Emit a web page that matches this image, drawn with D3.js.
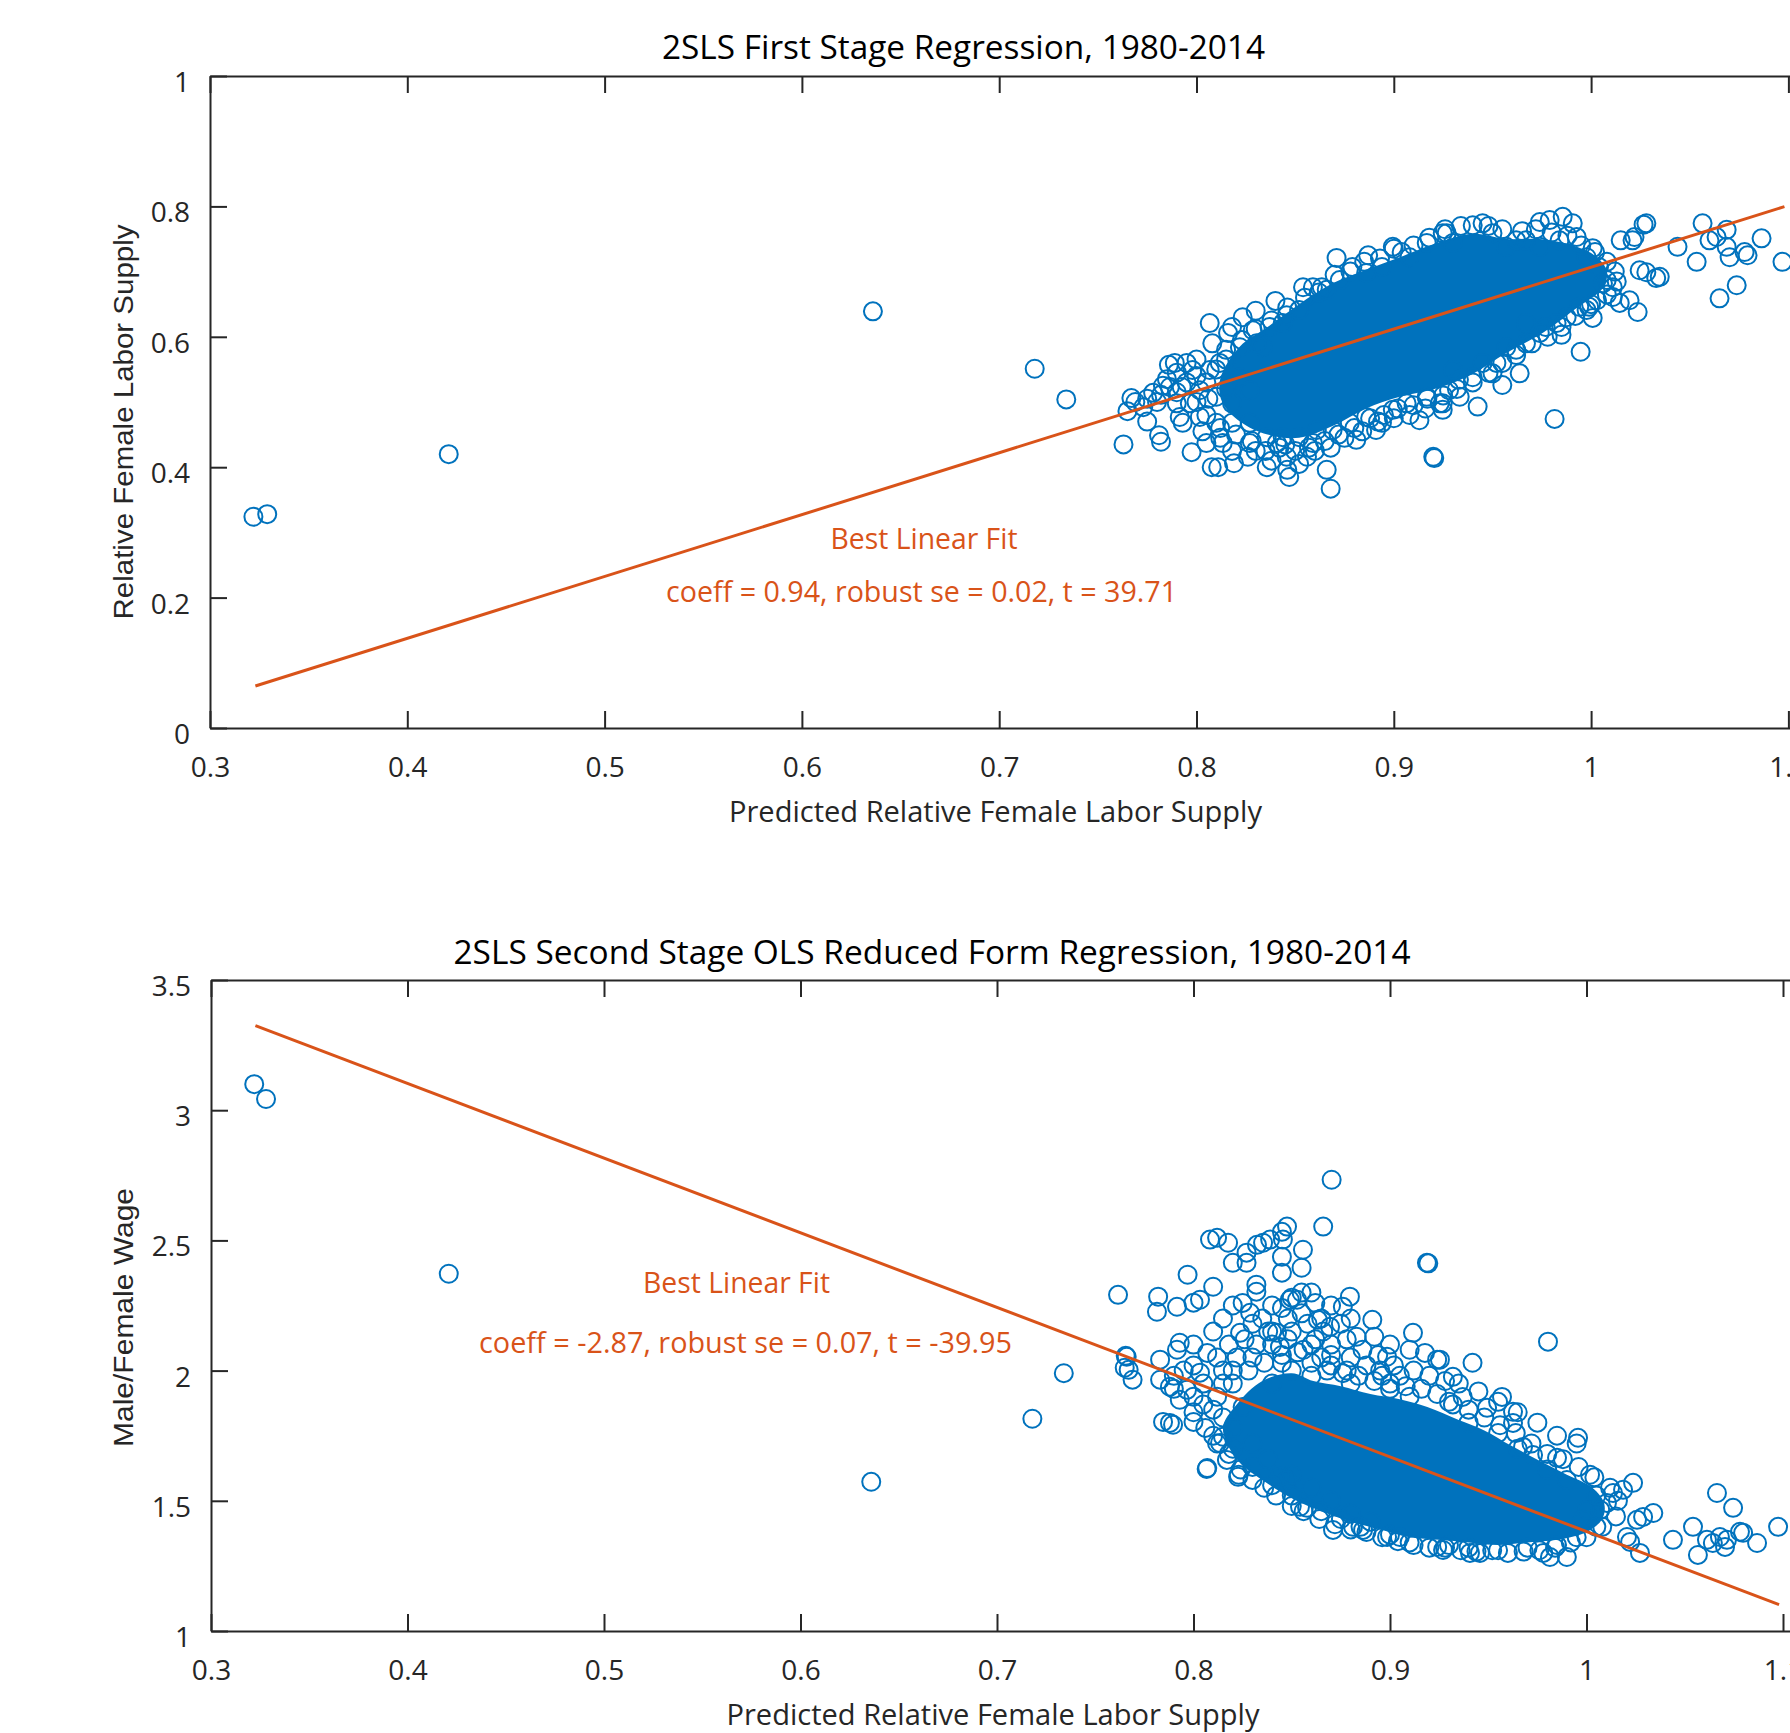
<!DOCTYPE html>
<html>
<head>
<meta charset="utf-8">
<script src="https://cdn.jsdelivr.net/npm/d3@7"></script>
<style>
  body { margin: 0; background: #fff; }
  .axis .domain, .axis line { stroke: #262626; stroke-width: 2; }
  .axis text { fill: #262626; font-family: 'Open Sans', 'Noto Sans', sans-serif; font-size: 28px; }
</style>
</head>
<body>
<svg id="chart" width="1790" height="1733"></svg>
<script>
// tick values
const xTicks = [0.3, 0.4, 0.5, 0.6, 0.7, 0.8, 0.9, 1, 1.1];
const topYTicks = [0, 0.2, 0.4, 0.6, 0.8, 1];
const bottomYTicks = [1, 1.5, 2, 2.5, 3, 3.5];

// fitted lines (slope, intercept, x range)
const topFit = { slope: 0.9487, intercept: -0.242, from: 0.323, to: 1.098 };
const bottomFit = { slope: -2.868, intercept: 4.250, from: 0.3226, to: 1.098 };

// solid blue mass where the circles overlap completely
const topCore = [
  [0.812,0.535],[0.822,0.585],[0.836,0.615],[0.852,0.650],[0.869,0.682],[0.886,0.703],
  [0.903,0.722],[0.920,0.742],[0.940,0.758],[0.957,0.750],[0.974,0.750],[0.991,0.740],
  [1.003,0.722],[1.008,0.700],[1.006,0.675],[0.993,0.645],[0.976,0.607],[0.957,0.575],
  [0.940,0.543],[0.923,0.522],[0.903,0.508],[0.886,0.490],[0.869,0.463],[0.852,0.445],
  [0.836,0.450],[0.822,0.470],[0.813,0.500]
];
const bottomCore = [
  [0.815,1.78],[0.822,1.87],[0.835,1.96],[0.850,1.99],[0.861,1.96],[0.875,1.94],
  [0.890,1.91],[0.905,1.89],[0.919,1.86],[0.935,1.81],[0.948,1.77],[0.962,1.71],
  [0.977,1.65],[0.990,1.60],[1.003,1.55],[1.009,1.49],[1.008,1.43],[1.000,1.38],
  [0.985,1.35],[0.970,1.34],[0.955,1.33],[0.940,1.34],[0.925,1.35],[0.910,1.36],
  [0.895,1.39],[0.880,1.42],[0.865,1.46],[0.850,1.51],[0.835,1.58],[0.822,1.66]
];

// individual observations [predicted supply, value]
const topPoints = [
  [0.322,0.324],[0.329,0.328],[0.421,0.420],[0.636,0.639],[0.718,0.551],[0.734,0.504],
  [0.763,0.435],[0.765,0.486],[0.767,0.506],[0.769,0.500],[0.773,0.492],[0.778,0.514],
  [0.781,0.449],[0.782,0.439],[0.782,0.511],[0.786,0.557],[0.789,0.560],[0.7865,0.523],
  [0.7925,0.523],[0.7975,0.423],[0.793,0.468],[0.7915,0.477],[0.8017,0.477],[0.805,0.437],
  [0.798,0.549],[0.8067,0.549],[0.8067,0.621],[0.816,0.606],[0.8234,0.630],[0.815,0.580],
  [0.8285,0.610],[0.837,0.615],[0.8336,0.584],[0.822,0.538],
  [0.8077,0.400],[0.811,0.400],[0.819,0.406],[0.826,0.416],[0.8356,0.400],[0.8457,0.416],
  [0.846,0.396],[0.847,0.385],[0.856,0.416],[0.866,0.396],[0.868,0.367],[0.869,0.457],
  [0.859,0.437],[0.8407,0.437],[0.881,0.442],[0.891,0.457],[0.8995,0.488],[0.913,0.472],
  [0.920,0.416],[0.9205,0.414],[0.9248,0.498],
  [0.8457,0.633],[0.854,0.676],[0.859,0.676],[0.8635,0.676],[0.871,0.721],[0.879,0.707],
  [0.887,0.725],[0.8995,0.738],[0.904,0.730],[0.9248,0.759],
  [0.795,0.560],[0.8017,0.518],[0.810,0.508],[0.7966,0.498],[0.790,0.498],[0.810,0.468],
  [0.818,0.468],[0.818,0.498],[0.827,0.518],[0.827,0.468],[0.827,0.437],[0.8133,0.437],
  [0.8356,0.446],[0.8437,0.446],[0.852,0.446],[0.861,0.457],[0.8777,0.468],[0.886,0.477],
  [0.894,0.468],[0.9065,0.498],[0.9167,0.508],[0.8118,0.560],[0.822,0.584],[0.8305,0.590],
  [0.8437,0.621],[0.852,0.641],[0.866,0.672],[0.8726,0.687],[0.886,0.698],[0.894,0.707],
  [0.908,0.722],[0.9167,0.744],
  [0.9815,0.474],[0.9947,0.577],[0.9425,0.493],[0.955,0.526],[0.9638,0.544],[0.9334,0.508],
  [0.9248,0.488],[0.985,0.603],[1.0008,0.629],[1.0236,0.638],[1.0195,0.656],[1.011,0.661],
  [1.011,0.676],[1.0246,0.702],[1.028,0.699],[1.033,0.690],[1.0348,0.692],[1.021,0.748],
  [1.022,0.753],[1.028,0.774],[1.0438,0.738],[1.0535,0.715],[1.0565,0.774],[1.060,0.748],
  [1.0636,0.753],[1.0687,0.764],[1.0687,0.738],[1.0702,0.722],[1.0651,0.659],[1.0738,0.679],
  [1.0778,0.730],[1.0793,0.725],[1.0864,0.751],[1.097,0.715],[0.9977,0.641],[0.9876,0.630],
  [1.0079,0.687],[0.979,0.779],[0.9856,0.784],[0.9907,0.774],[0.974,0.776],[0.9927,0.753],
  [1.0008,0.736],[0.940,0.771],[0.945,0.774],[0.950,0.759],[0.962,0.748],[0.967,0.748],
  [0.9268,0.759],[0.950,0.544],[0.952,0.560],[0.933,0.534],[0.928,0.518],[0.9233,0.498],
  [0.962,0.580],[0.967,0.590],[0.977,0.615],[0.9825,0.621],[1.003,0.656],[0.999,0.646],
  [1.0145,0.652],[1.015,0.748],[1.0266,0.772],
  [0.930,0.744],[0.957,0.738],[0.974,0.738],[0.984,0.748],[0.9977,0.722],[1.004,0.707],
  [1.006,0.682],[0.994,0.646],[0.974,0.606],[0.967,0.621],[0.957,0.584],[0.945,0.560],
  [0.940,0.538],[0.930,0.549],
  [0.815,0.565],[0.823,0.595],[0.830,0.612],[0.838,0.625],[0.846,0.645],[0.855,0.660],
  [0.862,0.668],[0.870,0.695],[0.878,0.700],[0.885,0.715],[0.893,0.720],[0.900,0.735],
  [0.910,0.740],[0.918,0.752],[0.926,0.765],[0.934,0.770],[0.948,0.770],[0.955,0.765],
  [0.965,0.762],[0.972,0.765],[0.980,0.760],[0.988,0.755],[0.995,0.740],[1.002,0.730],
  [1.008,0.715],[1.012,0.700],[1.013,0.685],
  [1.008,0.665],[1.000,0.650],[0.992,0.632],[0.985,0.615],[0.978,0.600],[0.970,0.590],
  [0.962,0.572],[0.955,0.560],[0.948,0.545],[0.940,0.530],[0.932,0.520],[0.925,0.510],
  [0.917,0.505],[0.910,0.495],[0.902,0.490],[0.895,0.480],[0.888,0.475],[0.880,0.460],
  [0.872,0.450],[0.865,0.440],[0.857,0.430],[0.850,0.425],[0.842,0.430],[0.835,0.425],
  [0.828,0.440],[0.820,0.450],[0.812,0.460],[0.805,0.480],[0.800,0.500],[0.805,0.530],
  [0.810,0.550],[0.800,0.540],[0.795,0.530],[0.790,0.515],[0.785,0.535],[0.780,0.500],
  [0.775,0.470],
  [0.803,0.455],[0.812,0.445],[0.818,0.425],[0.830,0.425],[0.838,0.410],[0.845,0.435],
  [0.852,0.405],[0.860,0.425],[0.868,0.430],[0.875,0.445],[0.884,0.455],[0.892,0.470],
  [0.900,0.475],[0.908,0.480],[0.916,0.490],[0.806,0.505],[0.815,0.520],[0.800,0.565],
  [0.808,0.590],[0.818,0.615],[0.830,0.640],[0.840,0.655],[0.790,0.545],[0.783,0.525],
  [0.775,0.505]
];

const bottomPoints = [
  [0.322,3.100],[0.328,3.043],[0.421,2.372],[0.636,1.573],[0.718,1.815],[0.734,1.990],
  [0.7616,2.291],[0.7655,2.057],[0.767,2.003],[0.766,2.053],[0.769,1.965],[0.765,2.011],
  [0.8703,2.733],[0.866,2.553],[0.8476,2.553],[0.845,2.533],[0.8455,2.503],[0.8557,2.464],
  [0.855,2.395],[0.845,2.437],[0.845,2.376],[0.8354,2.491],[0.8323,2.483],[0.839,2.503],
  [0.827,2.453],[0.827,2.414],[0.820,2.414],[0.8084,2.503],[0.812,2.510],[0.8176,2.491],
  [0.797,2.368],[0.810,2.322],[0.782,2.284],[0.7814,2.226],[0.832,2.303],[0.832,2.330],
  [0.7916,2.245],[0.800,2.261],[0.8033,2.272],[0.8796,2.284],[0.876,2.245],[0.849,2.272],
  [0.8527,2.272],[0.891,2.195],[0.892,2.130],[0.883,2.130],[0.9117,2.145],[0.9178,2.068],
  [0.924,2.042],[0.8985,2.053],[0.8633,2.195],[0.8695,2.168],[0.793,2.107],[0.7916,2.080],
  [0.783,2.042],[0.783,1.965],[0.788,1.938],[0.7845,1.803],[0.788,1.799],[0.7896,1.792],
  [0.800,1.803],[0.807,1.626],[0.8227,1.592],[0.817,1.657],[0.8135,1.722],[0.815,1.746],
  [0.793,1.888],[0.7967,1.926],[0.8033,1.992],[0.807,2.068],[0.8237,2.145],[0.8288,2.222],
  [0.8425,2.145],[0.844,2.091],[0.8542,1.477],[0.8578,1.473],[0.871,1.388],[0.8812,1.400],
  [0.8863,1.388],[0.8985,1.361],[0.905,1.361],[0.924,1.323],[0.844,1.592],[0.8476,1.580],
  [0.9188,2.414],[0.9195,2.412],[0.8067,1.622],[0.823,1.600],
  [0.9804,2.111],[0.942,2.030],[0.932,1.976],[0.9254,2.042],[0.937,1.899],[0.957,1.899],
  [0.9626,1.842],[0.9626,1.799],[0.9494,1.857],[0.9957,1.742],[0.9677,1.707],[0.9728,1.676],
  [0.985,1.665],[1.0018,1.600],[1.0237,1.569],[1.0186,1.542],[1.0135,1.530],[1.0104,1.492],
  [1.007,1.465],[1.034,1.453],[1.0288,1.438],[1.0257,1.427],[1.0206,1.361],[1.0222,1.342],
  [1.0272,1.300],[1.044,1.350],[1.0542,1.400],[1.0664,1.530],[1.0746,1.473],[1.0567,1.292],
  [1.0613,1.350],[1.0643,1.338],[1.0679,1.361],[1.0715,1.350],[1.0705,1.323],[1.0781,1.381],
  [1.0797,1.377],[1.0868,1.338],[1.0975,1.400],[0.990,1.284],[0.9814,1.284],[0.978,1.300],
  [0.9407,1.300],[0.9458,1.300],[0.927,1.311],[1.0003,1.465],[0.998,1.427],
  [0.84,1.95],[0.85,2.0],[0.86,1.98],[0.87,2.02],[0.88,1.95],[0.90,1.93],[0.91,1.90],
  [0.93,1.88],[0.94,1.80],[0.955,1.76],[0.965,1.70],[0.98,1.62],[0.99,1.58],[1.005,1.52],
  [1.005,1.40],[0.995,1.36],[0.985,1.33],[0.97,1.32],[0.955,1.31],[0.94,1.32],[0.93,1.33],
  [0.91,1.34],[0.90,1.37],[0.885,1.40],[0.875,1.43],[0.865,1.46],[0.85,1.52],[0.84,1.56],
  [0.83,1.63],[0.82,1.70],
  [0.81,1.85],[0.815,1.95],[0.82,2.0],[0.83,2.05],[0.84,2.1],[0.85,2.15],[0.86,2.1],
  [0.87,2.1],[0.835,2.2],[0.855,2.22],[0.80,1.9],[0.81,1.75],[0.825,1.86],[0.845,2.03],
  [0.865,2.05],[0.88,2.05],[0.895,2.0],[0.905,1.98],[0.85,2.28],[0.86,2.3],[0.87,2.25],
  [0.875,2.18],
  [0.812,1.90],[0.820,1.95],[0.828,2.00],[0.836,2.03],[0.845,2.06],[0.853,2.07],[0.860,2.03],
  [0.868,2.00],[0.876,1.99],[0.884,1.98],[0.892,1.96],[0.900,1.95],[0.908,1.94],[0.916,1.93],
  [0.924,1.91],[0.932,1.87],[0.940,1.85],[0.948,1.82],[0.956,1.79],[0.964,1.76],[0.972,1.72],
  [0.980,1.68],[0.988,1.66],[0.996,1.63],[1.004,1.59],[1.012,1.55],[1.016,1.50],
  [1.015,1.44],[1.008,1.40],[1.000,1.36],[0.992,1.34],[0.984,1.32],[0.976,1.31],[0.968,1.305],
  [0.960,1.30],[0.952,1.31],[0.944,1.305],[0.936,1.31],[0.928,1.32],[0.920,1.32],[0.912,1.33],
  [0.904,1.345],[0.896,1.36],[0.888,1.38],[0.880,1.39],[0.872,1.41],[0.864,1.43],[0.856,1.46],
  [0.850,1.48],[0.842,1.52],[0.836,1.55],[0.830,1.58],[0.824,1.62],[0.818,1.68],[0.812,1.72],
  [0.806,1.78],[0.800,1.84],
  [0.790,1.98],[0.800,2.02],[0.812,2.05],[0.818,2.10],[0.826,2.12],[0.838,2.15],[0.848,2.20],
  [0.858,2.18],[0.866,2.15],[0.878,2.12],[0.886,2.08],[0.894,2.06],[0.902,2.02],[0.912,2.00],
  [0.920,1.98],[0.928,1.96],[0.815,2.20],[0.825,2.26],[0.840,2.25],[0.862,2.26],[0.880,2.20],
  [0.900,2.10],[0.910,2.08],[0.935,1.95],[0.945,1.92],[0.955,1.88],[0.965,1.84],[0.975,1.80],
  [0.985,1.75],[0.995,1.72],
  [0.805,1.95],[0.815,2.00],[0.822,2.05],[0.832,2.10],[0.840,2.15],[0.848,2.12],[0.856,2.08],
  [0.862,2.12],[0.870,2.06],[0.878,2.00],[0.888,2.02],[0.896,1.98],[0.830,2.18],[0.845,2.24],
  [0.855,2.30],[0.865,2.20],[0.820,2.25],[0.810,2.15],[0.800,2.10],[0.795,2.00],[0.790,1.93],
  [0.805,1.87],[0.815,1.82],[0.820,1.78],[0.830,1.72],[0.838,1.66],[0.850,1.60],[0.860,1.55],
  [0.870,1.50],[0.880,1.45],[0.890,1.42]
];

const BLUE = '#0072BD';
const ORANGE = '#D95319';
const MYRIAD = "'Open Sans', 'Noto Sans', sans-serif";
const ARIAL = "'Liberation Sans', Arial, sans-serif";
const fmt = d => String(Math.round(d * 100) / 100);

const svg = d3.select('#chart');
svg.append('rect').attr('width', 1790).attr('height', 1733).attr('fill', '#fff');

function drawPanel(cfg) {
  const x = d3.scaleLinear().domain([0.3, 1.2]).range([cfg.left, cfg.left + 9 * cfg.step]);
  const y = d3.scaleLinear().domain(cfg.yDomain).range([cfg.bottom, cfg.top]);
  const g = svg.append('g');

  g.append('path')
    .datum(cfg.core)
    .attr('d', d3.line().x(d => x(d[0])).y(d => y(d[1])).curve(d3.curveCatmullRomClosed))
    .attr('fill', BLUE);

  g.selectAll('circle.pt').data(cfg.points).join('circle')
    .attr('class', 'pt')
    .attr('cx', d => x(d[0]))
    .attr('cy', d => y(d[1]))
    .attr('r', 9)
    .attr('fill', 'none')
    .attr('stroke', BLUE)
    .attr('stroke-width', 2);

  const f = cfg.fit;
  g.append('line')
    .attr('x1', x(f.from)).attr('y1', y(f.intercept + f.slope * f.from))
    .attr('x2', x(f.to)).attr('y2', y(f.intercept + f.slope * f.to))
    .attr('stroke', ORANGE).attr('stroke-width', 3);

  g.append('g').attr('class', 'axis')
    .attr('transform', `translate(0,${cfg.bottom})`)
    .call(d3.axisBottom(x).tickValues(xTicks).tickSize(-17).tickSizeOuter(0).tickPadding(29).tickFormat(fmt));
  g.append('g').attr('class', 'axis')
    .attr('transform', `translate(0,${cfg.top})`)
    .call(d3.axisTop(x).tickValues(xTicks).tickSize(-17).tickSizeOuter(0).tickFormat(''));
  const yAxis = g.append('g').attr('class', 'axis')
    .attr('transform', `translate(${cfg.left},0)`)
    .call(d3.axisLeft(y).tickValues(cfg.yTicks).tickSize(-17).tickSizeOuter(0).tickPadding(20).tickFormat(fmt));
  yAxis.selectAll('text').attr('dy', '0.55em');

  const txt = (t, px, py, size, width, color, font) =>
    g.append('text').text(t)
      .attr('x', px).attr('y', py)
      .attr('text-anchor', 'middle')
      .attr('font-family', font || MYRIAD)
      .attr('font-size', size)
      .attr('fill', color)
      .attr('textLength', width)
      .attr('lengthAdjust', 'spacingAndGlyphs');

  txt(cfg.title, cfg.titlePos[0], cfg.titlePos[1], 32, cfg.titlePos[2], '#000');
  txt('Predicted Relative Female Labor Supply', cfg.xlabPos[0], cfg.xlabPos[1], 29, 533, '#262626');
  txt('Best Linear Fit', cfg.fitPos[0], cfg.fitPos[1], 29, 187, ORANGE);
  txt(cfg.stats, cfg.statsPos[0], cfg.statsPos[1], 29, cfg.statsPos[2], ORANGE);

  g.append('text').text(cfg.ylabel)
    .attr('transform', `translate(${cfg.ylabPos[0]},${cfg.ylabPos[1]}) rotate(-90)`)
    .attr('text-anchor', 'middle')
    .attr('font-family', ARIAL)
    .attr('font-size', 28)
    .attr('fill', '#262626')
    .attr('textLength', cfg.ylabPos[2])
    .attr('lengthAdjust', 'spacingAndGlyphs');
}

drawPanel({
  left: 210, step: 197.3, top: 76, bottom: 728,
  yDomain: [0, 1], yTicks: topYTicks,
  core: topCore, points: topPoints, fit: topFit,
  title: '2SLS First Stage Regression, 1980-2014', titlePos: [963.5, 59, 603],
  xlabPos: [995.5, 822],
  ylabel: 'Relative Female Labor Supply', ylabPos: [133, 422, 395],
  fitPos: [924, 549],
  stats: 'coeff = 0.94, robust se = 0.02, t = 39.71', statsPos: [921.5, 602, 511]
});

drawPanel({
  left: 211, step: 196.5, top: 980, bottom: 1631,
  yDomain: [1, 3.5], yTicks: bottomYTicks,
  core: bottomCore, points: bottomPoints, fit: bottomFit,
  title: '2SLS Second Stage OLS Reduced Form Regression, 1980-2014', titlePos: [932, 964, 957],
  xlabPos: [993, 1725],
  ylabel: 'Male/Female Wage', ylabPos: [133, 1317.5, 259],
  fitPos: [736.5, 1293],
  stats: 'coeff = -2.87, robust se = 0.07, t = -39.95', statsPos: [745.5, 1353, 533]
});
</script>
</body>
</html>
